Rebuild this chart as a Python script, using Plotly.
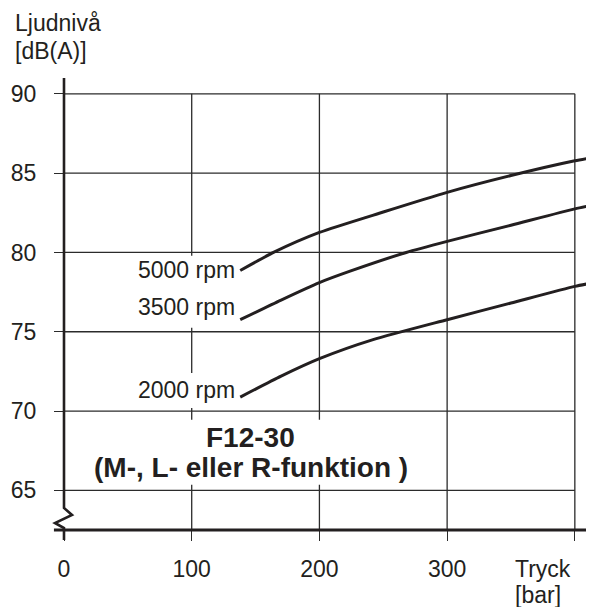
import plotly.graph_objects as go

# ---- data ----
pressure_5000 = [138, 164, 200, 250, 300, 350, 400, 415]
level_5000 = [78.86, 80.0, 81.26, 82.55, 83.79, 84.85, 85.78, 86.0]

pressure_3500 = [138, 170, 200, 224, 268, 300, 350, 400, 415]
level_3500 = [75.76, 77.0, 78.1, 78.82, 80.0, 80.7, 81.72, 82.75, 83.0]

pressure_2000 = [138, 170, 200, 242, 300, 350, 400, 415]
level_2000 = [70.88, 72.2, 73.3, 74.5, 75.76, 76.81, 77.86, 78.1]

series_labels = ["5000 rpm", "3500 rpm", "2000 rpm"]
x_ticks = [0, 100, 200, 300, 400]
x_tick_text = ["0", "100", "200", "300", ""]
y_ticks = [65, 70, 75, 80, 85, 90]

INK = "#231f20"
GRID = "#2b2b2b"
FONT = "Liberation Sans, Arial, Helvetica, sans-serif"

fig = go.Figure()
for xs, ys, name in [(pressure_5000, level_5000, series_labels[0]),
                     (pressure_3500, level_3500, series_labels[1]),
                     (pressure_2000, level_2000, series_labels[2])]:
    fig.add_trace(go.Scatter(x=xs, y=ys, mode="lines", name=name,
                             line=dict(color=INK, width=3, shape="spline", smoothing=0.6),
                             showlegend=False, hoverinfo="skip"))

shapes = []
# horizontal grid lines (0..400)
for yv in y_ticks:
    shapes.append(dict(type="line", xref="x", yref="y", x0=0, x1=400, y0=yv, y1=yv,
                       line=dict(color=GRID, width=1.3), layer="below"))
# vertical grid lines (62.5..90)
for xv in x_ticks[1:]:
    shapes.append(dict(type="line", xref="x", yref="y", x0=xv, x1=xv, y0=62.5, y1=90,
                       line=dict(color=GRID, width=1.3), layer="below"))
# white backgrounds behind text labels (break grid lines)
for x0, x1, y0, y1 in [(48.5, 137.5, 75.25, 79.8), (48.5, 137.5, 70.2, 72.4),
                       (15, 278, 65.35, 69.45)]:
    shapes.append(dict(type="rect", xref="x", yref="y", x0=x0, x1=x1, y0=y0, y1=y1,
                       fillcolor="white", line=dict(width=0), layer="below"))
# x axis line (extends left past y axis)
shapes.append(dict(type="line", xref="paper", yref="paper", x0=-0.019, x1=1, y0=0, y1=0,
                   line=dict(color=INK, width=3)))
# y axis line with break symbol
shapes.append(dict(type="path", xref="paper", yref="paper",
                   path="M 0 1 L 0 0.0487 L 0.0151 0.0332 L -0.017 0.0155 L 0 0.0044 L 0 -0.0221",
                   line=dict(color=INK, width=2.6)))

annotations = []
tf = dict(family=FONT, size=23, color=INK)
for txt, yv in [("5000 rpm", 78.89), ("3500 rpm", 76.56), ("2000 rpm", 71.33)]:
    annotations.append(dict(text=txt, xref="x", yref="y", x=135.5, y=yv,
                            xanchor="right", yanchor="middle", showarrow=False, font=tf))
bf = dict(family=FONT, size=28, color=INK)
annotations.append(dict(text="<b>F12-30</b>", xref="x", yref="y", x=146.4, y=68.36,
                        xanchor="center", yanchor="middle", showarrow=False, font=bf))
annotations.append(dict(text="<b>(M-, L- eller R-funktion )</b>", xref="x", yref="y", x=146.8, y=66.47,
                        xanchor="center", yanchor="middle", showarrow=False, font=bf))
annotations.append(dict(text="Ljudnivå", xref="paper", yref="paper", x=-0.0962, y=1.1206,
                        xanchor="left", yanchor="middle", showarrow=False, font=tf))
annotations.append(dict(text="[dB(A)]", xref="paper", yref="paper", x=-0.0962, y=1.0597,
                        xanchor="left", yanchor="middle", showarrow=False, font=tf))
annotations.append(dict(text="Tryck", xref="paper", yref="paper", x=0.8472, y=-0.0863,
                        xanchor="left", yanchor="middle", showarrow=False, font=tf))
annotations.append(dict(text="[bar]", xref="paper", yref="paper", x=0.8472, y=-0.1438,
                        xanchor="left", yanchor="middle", showarrow=False, font=tf))

# page body has an 8px margin: shrink figure so the plot lands where the reference has it
fig.update_layout(
    width=586, height=599,
    margin=dict(l=56, r=0, t=70, b=77),
    paper_bgcolor="white", plot_bgcolor="white",
    shapes=shapes, annotations=annotations,
    font=dict(family=FONT, size=23, color=INK),
    xaxis=dict(range=[0, 415], tickvals=x_ticks, ticktext=x_tick_text,
               showgrid=False, zeroline=False, showline=False,
               ticks="outside", ticklen=10, tickwidth=1.3, tickcolor=GRID,
               ticklabelstandoff=8, tickfont=tf, fixedrange=True),
    yaxis=dict(range=[62.5, 91], tickvals=y_ticks,
               showgrid=False, zeroline=False, showline=False,
               ticks="outside", ticklen=9, tickwidth=1.3, tickcolor=GRID,
               ticklabelstandoff=13, tickfont=tf, fixedrange=True),
)

fig.write_html("out.html")
